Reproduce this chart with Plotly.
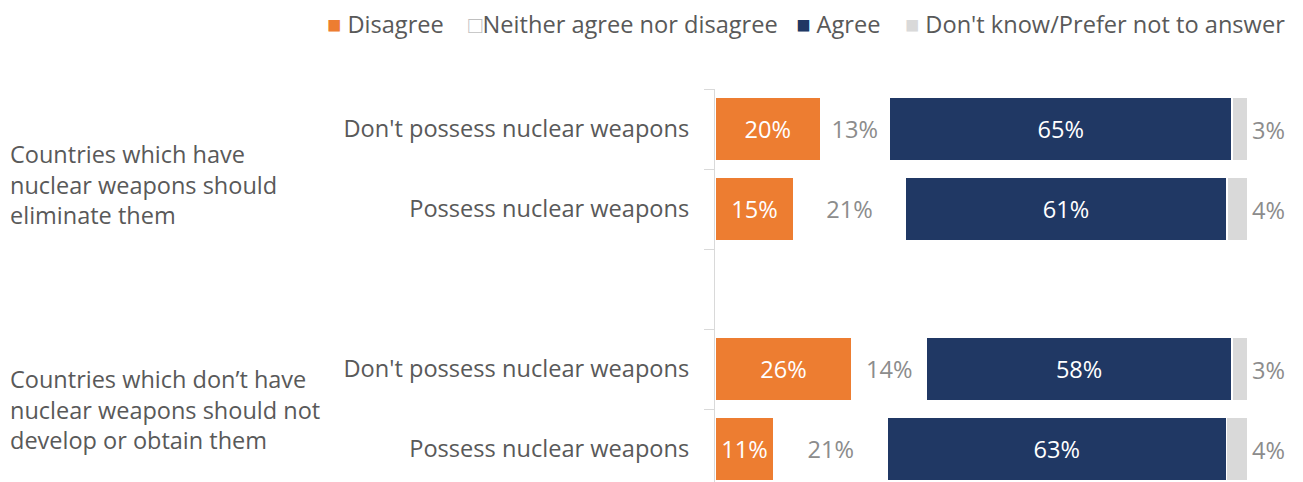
import plotly.graph_objects as go

# ---- data ----
row_pos = [0, 1, 3, 4]
row_labels = ["Don't possess nuclear weapons", "Possess nuclear weapons",
              "Don't possess nuclear weapons", "Possess nuclear weapons"]
group_labels = ["Countries which have<br>nuclear weapons should<br>eliminate them",
                "Countries which don’t have<br>nuclear weapons should not<br>develop or obtain them"]
group_pos = [0.69, 3.5]

disagree = [20, 15, 26, 11]
neither = [13, 21, 14, 21]
agree = [65, 61, 58, 63]
dont_know = [3, 4, 3, 4]

series = [
    ("Disagree", disagree, "#ED7D31", "inside", "#FFFFFF"),
    ("Neither agree nor disagree", neither, "rgba(255,255,255,0)", "inside", "#8C8C8C"),
    ("Agree", agree, "#203864", "inside", "#FFFFFF"),
    ("Don't know/Prefer not to answer", dont_know, "#D9D9D9", "none", "#8C8C8C"),
]

FONT = "Open Sans"
FS = 23.6
W, H = 1303, 482

fig = go.Figure()
for name, vals, color, tpos, tcol in series:
    fig.add_trace(go.Bar(
        y=row_pos, x=vals, name=name, orientation="h",
        marker=dict(color=color, line=dict(color="#FFFFFF", width=1.5)),
        text=[f"{v}%" for v in vals], textposition=tpos,
        insidetextanchor="middle", constraintext="none",
        textfont=dict(family=FONT, size=FS, color=tcol),
        cliponaxis=False, width=0.8, showlegend=False,
    ))

# "Don't know" labels sit just past the end of each (100%-normalised) bar
totals = [d + n + a + k for d, n, a, k in zip(disagree, neither, agree, dont_know)]
bar_ends = [t / t * 100 for t in totals]

# legend built as a single text line with coloured squares
sp3 = "&nbsp;" * 3
sp4 = "&nbsp;" * 4
legend_html = ('<span style="color:#ED7D31">■</span> Disagree' + sp4 +
               '<span style="color:#BFBFBF">□</span>Neither agree nor disagree' + sp3 +
               '<span style="color:#203864">■</span> Agree' + sp4 +
               '<span style="color:#D9D9D9">■</span> Don\'t know/Prefer not to answer')

annotations = [dict(
    text=legend_html, xref="paper", yref="paper", x=1287 / W, y=1 - 24 / H,
    xanchor="right", yanchor="middle", showarrow=False,
    font=dict(family=FONT, size=FS, color="#595959"))]

for lbl, gp in zip(group_labels, group_pos):
    annotations.append(dict(
        text=lbl, xref="paper", yref="y", x=8 / W, y=gp,
        xanchor="left", yanchor="middle", align="left", showarrow=False,
        font=dict(family=FONT, size=23.5, color="#595959")))

for xe, yp, v in zip(bar_ends, row_pos, dont_know):
    annotations.append(dict(
        text=f"{v}%", xref="x", yref="y", x=xe, y=yp, xshift=2, yshift=-1,
        xanchor="left", yanchor="middle", showarrow=False,
        font=dict(family=FONT, size=FS, color="#8C8C8C")))

fig.update_layout(
    width=W, height=H, barmode="stack", barnorm="percent",
    plot_bgcolor="white", paper_bgcolor="white",
    margin=dict(l=0, r=0, t=0, b=0),
    xaxis=dict(domain=[715 / W, 1248 / W], range=[0, 100], visible=False, fixedrange=True),
    yaxis=dict(domain=[0, 1 - 89 / H], range=[(482 - 89) / 80 - 0.5, -0.5],
               tickvals=row_pos, ticktext=row_labels, ticks="",
               ticklabelstandoff=20,
               tickfont=dict(family=FONT, size=FS, color="#595959"),
               showline=True, linecolor="#D9D9D9", linewidth=1,
               showgrid=False, zeroline=False,
               minor=dict(tickvals=[-0.5, 0.5, 1.5, 2.5, 3.5, 4.5], ticks="outside",
                          ticklen=10, tickcolor="#D9D9D9", showgrid=False)),
    annotations=annotations,
    font=dict(family=FONT),
)

fig.write_html("out.html", config={"displayModeBar": False},
               post_script="document.body.style.margin='0';document.body.style.overflow='hidden';")
